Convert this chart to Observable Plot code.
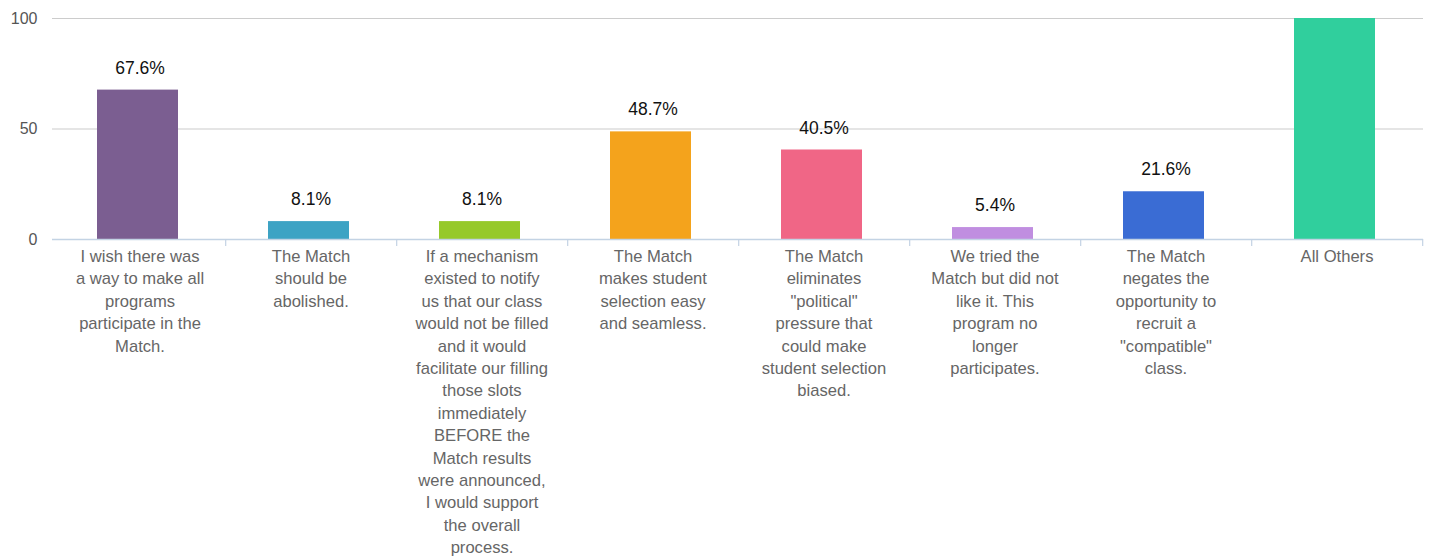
<!DOCTYPE html>
<html>
<head>
<meta charset="utf-8">
<script src="https://cdn.jsdelivr.net/npm/d3@7"></script>
<script src="https://cdn.jsdelivr.net/npm/@observablehq/plot@0.6"></script>
<style>
  html, body { margin: 0; padding: 0; background: #fff; }
  #chart svg { display: block; }
</style>
</head>
<body>
<div id="chart"></div>
<script>
const categories = [
  "I wish there was\na way to make all\nprograms\nparticipate in the\nMatch.",
  "The Match\nshould be\nabolished.",
  "If a mechanism\nexisted to notify\nus that our class\nwould not be filled\nand it would\nfacilitate our filling\nthose slots\nimmediately\nBEFORE the\nMatch results\nwere announced,\nI would support\nthe overall\nprocess.",
  "The Match\nmakes student\nselection easy\nand seamless.",
  "The Match\neliminates\n\"political\"\npressure that\ncould make\nstudent selection\nbiased.",
  "We tried the\nMatch but did not\nlike it. This\nprogram no\nlonger\nparticipates.",
  "The Match\nnegates the\nopportunity to\nrecruit a\n\"compatible\"\nclass.",
  "All Others"
];
const values = [67.6, 8.1, 8.1, 48.7, 40.5, 5.4, 21.6, 100];
const valueLabels = ["67.6%", "8.1%", "8.1%", "48.7%", "40.5%", "5.4%", "21.6%", ""];
const colors = ["#7b5e91", "#3da3c4", "#96c92a", "#f4a31c", "#f06686", "#c08ee0", "#3a6cd4", "#30cf9d"];
const yTicks = [0, 50, 100];

const data = categories.map((c, i) => ({category: c, value: values[i], label: valueLabels[i], color: colors[i]}));

const W = 1429, H = 559, mL = 52, mR = 6, mT = 18, mB = 320;
const step = (W - mL - mR) / categories.length;

const chart = Plot.plot({
  width: W,
  height: H,
  marginLeft: mL,
  marginRight: mR,
  marginTop: mT,
  marginBottom: mB,
  style: {fontFamily: "'Liberation Sans', Arial, Helvetica, sans-serif", background: "#fff"},
  x: {type: "band", domain: categories, padding: 0, axis: null},
  y: {domain: [0, 100], ticks: yTicks, axis: null},
  marks: [
    Plot.ruleY([50, 100], {stroke: "#cccccc", strokeWidth: 1.2}),
    Plot.barY(data, {x: "category", y: "value", fill: "color", insetLeft: 43, insetRight: 47}),
    Plot.ruleY([0], {stroke: "#c3d3e4", strokeWidth: 1.5}),
    Plot.ruleX(categories, {x: d => d, y1: 0, y2: 0, dx: step / 2, stroke: "#c3d3e4", strokeWidth: 1.2, insetBottom: -7}),
    Plot.text(yTicks, {y: d => d, text: d => String(d), frameAnchor: "left", textAnchor: "end", dx: -15, fontSize: 16, fill: "#555"}),
    Plot.text(data, {x: "category", y: "value", text: "label", dy: -22, fontSize: 17.5, fill: "#111"}),
    Plot.text(data, {x: "category", y: 0, text: "category", lineAnchor: "top", dy: 6.5, fontSize: 16.6, lineHeight: 1.35, fill: "#666"})
  ]
});
document.getElementById("chart").appendChild(chart);
</script>
</body>
</html>
